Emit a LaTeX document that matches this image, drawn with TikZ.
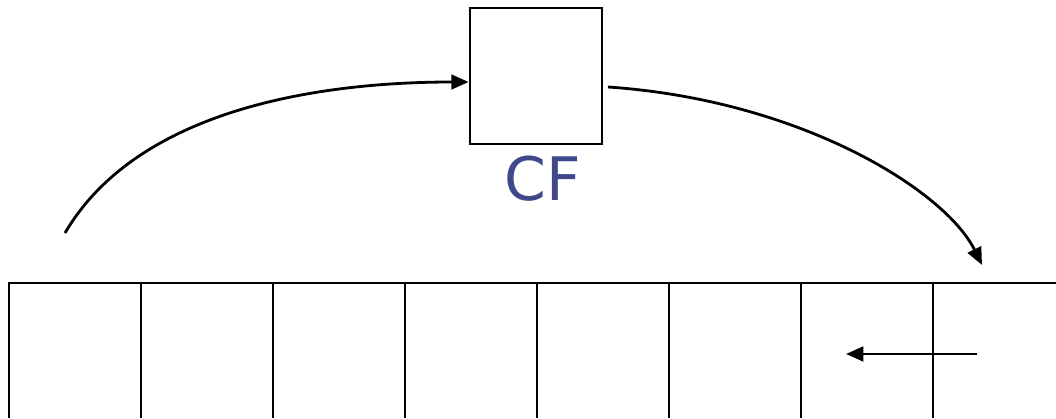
\documentclass[tikz,border=0pt]{standalone}
\usepackage{fontspec}
\newfontfamily\cffont{DejaVu Sans}
\usetikzlibrary{arrows.meta}
\definecolor{cfblue}{RGB}{64,72,140}
\tikzset{
  ln/.style={line width=2.1pt, draw=black},
  arr/.style={ln, -{Triangle[length=13pt,width=11pt]}},
  boxnode/.style={ln, rectangle, inner sep=0pt, minimum width=99pt, minimum height=102pt},
  lbl/.style={text=cfblue, font=\cffont\fontsize{45}{50}\selectfont, inner sep=0pt}
}
\begin{document}
\begin{tikzpicture}[x=0.75pt,y=-0.75pt]
\useasboundingbox (0,0) rectangle (1056,418);
% function box
\node[boxnode] (cf) at (536,76) {};
\node[lbl, anchor=base] (cflabel) at (543,200) {CF};
% array
\draw[ln] (9,418) -- (9,283) -- (1056,283);
\foreach \i in {1,...,7} {
  \draw[ln] ({9+132*\i},283) -- ({9+132*\i},418);
}
% curves
\coordinate (src) at (65,233);
\coordinate (dst) at (982,265);
\coordinate (inA) at (977,354);
\coordinate (inB) at (846,354);
\coordinate (outR) at (608,87);
\draw[arr] (src) .. controls (140,105) and (330,82) .. (cf.west |- 0,82);
\draw[arr] (outR) .. controls (800,100) and (945,190) .. (dst);
\draw[arr] (inA) -- (inB);
\end{tikzpicture}
\end{document}
